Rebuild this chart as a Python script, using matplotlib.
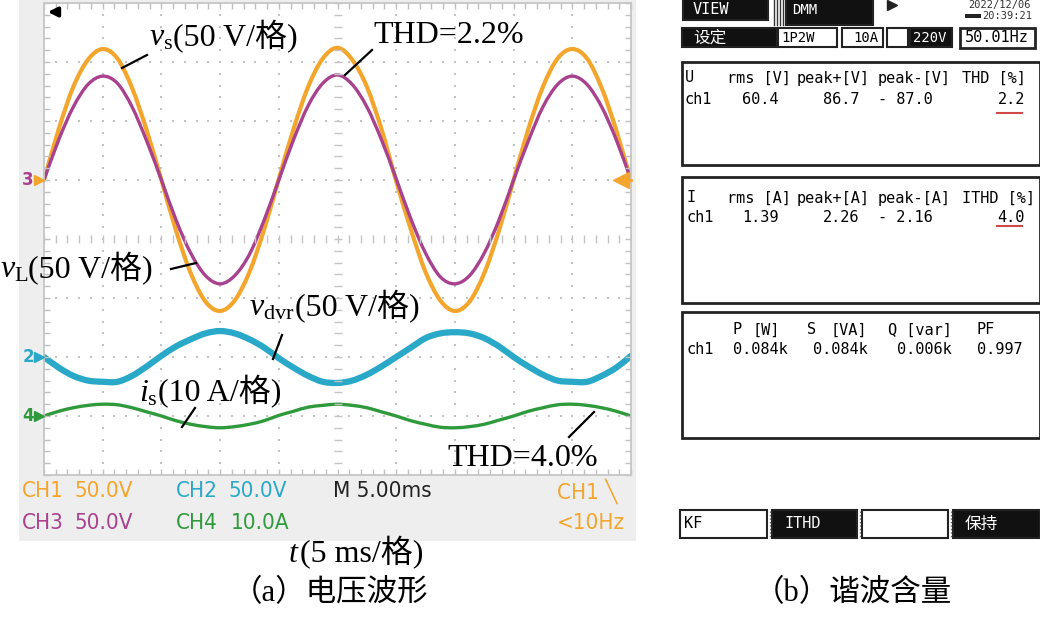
import numpy as np
import matplotlib.pyplot as plt
from matplotlib.patches import Rectangle, PathPatch
from matplotlib.path import Path
from matplotlib.transforms import blended_transform_factory

plt.rcParams['mathtext.fontset'] = 'custom'
plt.rcParams['mathtext.rm'] = 'Liberation Serif'
plt.rcParams['mathtext.it'] = 'Liberation Serif:italic'

# ---- scope traces, read every 1.25 ms across the 10 x 5 ms screen ----
t_ms = np.linspace(0, 50, 41)
v_s = [0, 43, 79, 102, 111, 103, 78, 42,
       0, -43, -79, -103, -111, -102, -78, -42,
       1, 43, 79, 103, 112, 102, 79, 43,
       -1, -42, -78, -102, -111, -103, -79, -43,
       0, 43, 79, 103, 111, 103, 78, 42, -1]
v_L = [0, 34, 62, 81, 88, 82, 62, 33,
       0, -34, -62, -81, -88, -81, -63, -34,
       0, 34, 63, 82, 89, 81, 62, 34,
       1, -33, -62, -82, -88, -81, -62, -34,
       0, 33, 62, 81, 88, 81, 62, 34, 0]
v_dvr = [0, -9, -16, -20, -21, -21, -16, -8,
         1, 9, 15, 20, 22, 20, 15, 8,
         -1, -9, -16, -21, -22, -20, -15, -8,
         0, 8, 16, 20, 21, 20, 16, 9,
         0, -8, -15, -20, -21, -21, -16, -9, 1]
i_s = [0, 0.8, 1.4, 1.8, 2.0, 1.9, 1.4, 0.7,
       0, -0.8, -1.4, -1.8, -2.0, -1.8, -1.4, -0.8,
       0.1, 0.8, 1.5, 1.8, 2.0, 1.8, 1.4, 0.7,
       0, -0.8, -1.4, -1.9, -2.0, -1.8, -1.4, -0.7,
       0, 0.8, 1.4, 1.9, 2.0, 1.8, 1.4, 0.8, 0]

# volts (amps) per division and ground offsets in divisions
scale_ch1, scale_ch2, scale_ch3, scale_ch4 = 50, 50, 50, 10
off_ch1, off_ch2, off_ch3, off_ch4 = 1, -2, 1, -3

# ---- power meter readings ----
u_header = ['U', 'rms [V]', 'peak+[V]', 'peak-[V]', 'THD [%]']
u_values = ['ch1', '60.4', '86.7', '- 87.0', '2.2']
i_header = ['I', 'rms [A]', 'peak+[A]', 'peak-[A]', 'ITHD [%]']
i_values = ['ch1', '1.39', '2.26', '- 2.16', '4.0']
p_header = ['P', '[W]', 'S', '[VA]', 'Q [var]', 'PF']
p_values = ['ch1', '0.084k', '0.084k', '0.006k', '0.997']

c_or, c_pu, c_cy, c_gr = '#f3a52c', '#a8418e', '#2aa8c8', '#2f9a3c'

W, H = 1040, 617
fig = plt.figure(figsize=(W / 100, H / 100), dpi=100)
bg = fig.add_axes([0, 0, 1, 1], zorder=0)
bg.set_xlim(0, W)
bg.set_ylim(H, 0)
bg.axis('off')

# gray scope frame
bg.add_patch(Rectangle((19, 0), 617, 541, fc='#eeeeee', lw=0))

sc = fig.add_axes([44 / W, 1 - 475 / H, 587 / W, 472 / H], zorder=1)
sc.set_xlim(0, 50)
sc.set_ylim(-4, 4)
gx = np.arange(0, 50.01, 1.0)
gy = np.arange(-4, 4.01, 0.2)
sc.set_xticks(gx)
sc.set_yticks(gy)
sc.tick_params(direction='in', length=4, width=1, color='#c0c0c0', top=True, right=True,
               labelbottom=False, labelleft=False)
for sp in sc.spines.values():
    sp.set_color('#c6c6c6')
    sp.set_linewidth(1.3)
for xd in [5, 10, 15, 20, 30, 35, 40, 45]:
    sc.scatter(np.full(len(gy), xd), gy, s=2, marker='s', color='#c2c2c2', lw=0)
for yd in [-3, -2, -1, 1, 2, 3]:
    sc.scatter(gx, np.full(len(gx), yd), s=2, marker='s', color='#c2c2c2', lw=0)
sc.plot(gx, np.zeros(len(gx)), ls='none', marker='|', ms=6, mew=1, color='#c4c4c4')
sc.plot(np.full(len(gy), 25), gy, ls='none', marker='_', ms=6, mew=1, color='#c4c4c4')


def trace(ax, x, y, **kw):
    # smooth curve through the samples (Catmull-Rom as cubic Bezier segments)
    x = np.asarray(x, float)
    y = np.asarray(y, float)
    n = len(x)
    verts = [(x[0], y[0])]
    codes = [Path.MOVETO]
    for i in range(n - 1):
        a = max(i - 1, 0)
        b = min(i + 2, n - 1)
        verts += [(x[i] + (x[i + 1] - x[a]) / 6, y[i] + (y[i + 1] - y[a]) / 6),
                  (x[i + 1] - (x[b] - x[i]) / 6, y[i + 1] - (y[b] - y[i]) / 6),
                  (x[i + 1], y[i + 1])]
        codes += [Path.CURVE4] * 3
    ax.add_patch(PathPatch(Path(verts, codes), fill=False, capstyle='round',
                           joinstyle='round', **kw))


trace(sc, t_ms, np.array(v_s) / scale_ch1 + off_ch1, ec=c_or, lw=3.0)
trace(sc, t_ms, np.array(v_L) / scale_ch3 + off_ch3, ec=c_pu, lw=2.4)
trace(sc, t_ms, np.array(v_dvr) / scale_ch2 + off_ch2, ec=c_cy, lw=4.5)
trace(sc, t_ms, np.array(i_s) / scale_ch4 + off_ch4, ec=c_gr, lw=2.4)

ov = fig.add_axes([0, 0, 1, 1], zorder=2)
ov.set_xlim(0, W)
ov.set_ylim(H, 0)
ov.axis('off')

# channel ground markers
lcd = ['Liberation Sans Narrow', 'DejaVu Sans']
tr = blended_transform_factory(ov.transData, sc.transData)
for lab, off, col in [('3', off_ch3, c_pu), ('2', off_ch2, c_cy), ('4', off_ch4, c_gr)]:
    ov.text(28, off, lab, transform=tr, color=col, ha='center', va='center', fontsize=12,
            family=lcd, fontweight='bold')
    ov.plot([39], [off], transform=tr, marker='>', ms=7, color=c_or if lab == '3' else col)
ov.plot([621, 631], [off_ch1, off_ch1], transform=tr, color=c_or, lw=2)
ov.plot([621], [off_ch1], transform=tr, marker='<', ms=11, color=c_or)
ov.annotate('', xy=(45, 12), xytext=(61, 12),
            arrowprops=dict(arrowstyle='-|>', color='k', lw=2.5, mutation_scale=14))

# channel settings rows
for x, y, s, col in [(22, 491, 'CH1', c_or), (75, 491, '50.0V', c_or),
                     (176, 491, 'CH2', c_cy), (229, 491, '50.0V', c_cy),
                     (333, 491, 'M 5.00ms', '#222222'), (557, 491, 'CH1 \u2572', c_or),
                     (22, 523, 'CH3', c_pu), (75, 523, '50.0V', c_pu),
                     (176, 523, 'CH4', c_gr), (231, 523, '10.0A', c_gr),
                     (557, 523, '<10Hz', c_or)]:
    ov.text(x, y, s, color=col, fontsize=16, family=lcd, fontstretch='condensed',
            ha='left', va='center')

serif = ['Liberation Serif', 'Noto Sans CJK SC']
rend = fig.canvas.get_renderer()


def label(x, y, math, rest, size=23):
    t1 = ov.text(x, y, math, fontsize=size, ha='left', va='baseline')
    bb = t1.get_window_extent(renderer=rend)
    x1 = ov.transData.inverted().transform((bb.x1, bb.y0))[0]
    ov.text(x1, y, rest, fontsize=size, ha='left', va='baseline', family=serif)


label(149, 46, r'$v_{\rm s}$', '(50 V/格)')
label(0, 278, r'$v_{\rm L}$', '(50 V/格)')
label(249, 316, r'$v_{\rm dvr}$', '(50 V/格)')
label(139, 401, r'$i_{\rm s}$', '(10 A/格)')
label(288, 562, r'$t$', '(5 ms/格)')
ov.text(373, 43, 'THD=2.2%', fontsize=23, family=serif, va='baseline')
ov.text(447, 466, 'THD=4.0%', fontsize=23, family=serif, va='baseline')

for x0, y0, x1, y1 in [(147, 55, 122, 68), (372, 50, 345, 75), (171, 269, 196, 263),
                       (282, 335, 273, 359), (195, 408, 182, 427), (594, 412, 569, 437)]:
    ov.plot([x0, x1], [y0, y1], color='k', lw=1.6)

ov.text(330, 594, '（a）电压波形', fontsize=22, family=serif, ha='center', va='center')
ov.text(853, 594, '（b）谐波含量', fontsize=22, family=serif, ha='center', va='center')

# ---- power meter screen ----
mono = 'DejaVu Sans Mono'


def box(x0, y0, x1, y1, fc='white', lw=1.5):
    bg.add_patch(Rectangle((x0, y0), x1 - x0, y1 - y0, fc=fc, ec='#222222', lw=lw))


box(683, -2, 768, 20, fc='#111111')
ov.text(693, 9, 'VIEW', color='white', fontsize=11, family=mono, va='center')
for xs in [774, 777, 780, 783]:
    ov.plot([xs, xs], [0, 25], color='#333333', lw=1)
box(786, -2, 873, 25, fc='#111111')
ov.text(792, 10, 'DMM', color='white', fontsize=10, family=mono, va='center')
ov.plot([892], [5], marker='>', ms=7, color='#222222')
ov.text(968, 5, '2022/12/06', fontsize=7.5, family=mono, va='center', color='#333333')
bg.add_patch(Rectangle((965, 14), 16, 4, fc='#222222', lw=0))
ov.text(982, 16, '20:39:21', fontsize=7.5, family=mono, va='center', color='#333333')

box(682, 28, 777, 47, fc='#111111')
ov.text(693, 38, '设定', color='white', fontsize=12, family='Noto Sans CJK SC', va='center')
box(778, 28, 837, 47)
ov.text(781, 38, '1P2W', fontsize=10, family=mono, va='center')
box(842, 28, 883, 47)
ov.text(853, 38, '10A', fontsize=10, family=mono, va='center')
box(887, 28, 908, 47)
box(910, 28, 952, 47, fc='#111111')
ov.text(913, 38, '220V', color='white', fontsize=10, family=mono, va='center')
box(960, 28, 1035, 48, lw=2)
ov.text(965, 38, '50.01Hz', fontsize=11, family=mono, va='center')

box(682, 62, 1040, 165, lw=2)
for x, s in zip([685, 727, 797, 878, 962], u_header):
    ov.text(x, 78, s, fontsize=11, family=mono, va='center')
for x, s in zip([685, 742, 823, 878, 998], u_values):
    ov.text(x, 100, s, fontsize=11, family=mono, va='center')
ov.plot([997, 1022], [113, 113], color='#d04848', lw=1.5)

box(682, 177, 1040, 303, lw=2)
for x, s in zip([687, 727, 797, 878, 962], i_header):
    ov.text(x, 198, s, fontsize=11, family=mono, va='center')
for x, s in zip([687, 742, 823, 878, 997], i_values):
    ov.text(x, 217, s, fontsize=11, family=mono, va='center')
ov.plot([997, 1022], [226, 226], color='#d04848', lw=1.5)

box(682, 312, 1040, 438, lw=2)
for x, s in zip([733, 753, 807, 830, 888, 977], p_header):
    ov.text(x, 330, s, fontsize=11, family=mono, va='center')
for x, s in zip([687, 733, 813, 897, 977], p_values):
    ov.text(x, 350, s, fontsize=11, family=mono, va='center')

box(680, 510, 767, 538)
ov.text(684, 524, 'KF', fontsize=11, family=mono, va='center')
box(772, 510, 857, 538, fc='#111111')
ov.text(785, 524, 'ITHD', color='white', fontsize=11, family=mono, va='center')
box(862, 510, 948, 538)
box(953, 510, 1040, 538, fc='#111111')
ov.text(965, 524, '保持', color='white', fontsize=12, family='Noto Sans CJK SC', va='center')
for xs in [769.5, 859.5, 950.5]:
    ov.plot([xs, xs], [511, 537], color='#666666', lw=1, ls=(0, (1, 1.5)))

fig.savefig('out.png', dpi=100, facecolor='white')
